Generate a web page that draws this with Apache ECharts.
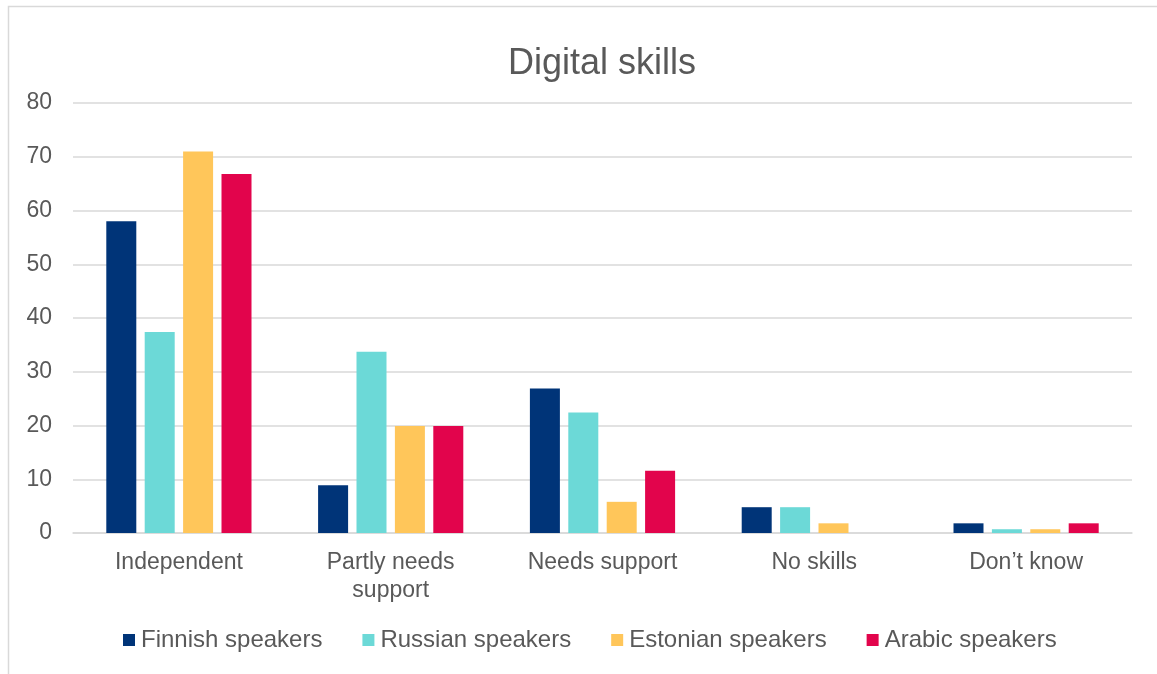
<!DOCTYPE html>
<html>
<head>
<meta charset="utf-8">
<script src="https://cdn.jsdelivr.net/npm/echarts@6/dist/echarts.min.js"></script>
<style>
  html, body { margin: 0; padding: 0; background: #fff; }
  #chart { width: 1157px; height: 674px; }
</style>
</head>
<body>
<div id="chart"></div>
<script>
const categories = ['Independent', 'Partly needs\nsupport', 'Needs support', 'No skills', 'Don\u2019t know'];
const finnish = [58, 8.9, 26.9, 4.8, 1.8];
const russian = [37.4, 33.7, 22.4, 4.8, 0.7];
const estonian = [71, 19.9, 5.8, 1.8, 0.7];
const arabic = [66.8, 19.9, 11.6, 0, 1.8];
const seriesNames = ['Finnish speakers', 'Russian speakers', 'Estonian speakers', 'Arabic speakers'];
const colors = ['#003478', '#6cd9d7', '#ffc65a', '#e2044c'];

const chart = echarts.init(document.getElementById('chart'));
const font = '"Liberation Sans", Arial, sans-serif';
const textColor = '#595959';

const bar = (name, data, color) => ({
  name: name,
  type: 'bar',
  data: data,
  barWidth: 30,
  barGap: '28%',
  itemStyle: { color: color },
  emphasis: { disabled: true }
});

chart.setOption({
  animation: false,
  color: colors,
  title: {
    text: 'Digital skills',
    left: 508,
    top: 46,
    padding: 0,
    textStyle: { fontFamily: font, fontSize: 36, fontWeight: 'normal', color: textColor }
  },
  graphic: [{
    type: 'rect',
    silent: true,
    shape: { x: 8.5, y: 6.5, width: 1200, height: 700 },
    style: { fill: 'none', stroke: '#d9d9d9', lineWidth: 1.5 }
  }],
  legend: {
    left: 123,
    top: 628,
    padding: 0,
    itemWidth: 12,
    itemHeight: 12,
    itemGap: 40,
    icon: 'rect',
    data: seriesNames,
    textStyle: { fontFamily: font, fontSize: 24, color: textColor, padding: [0, 0, 0, 1] }
  },
  grid: { left: 73, right: 25, top: 103, bottom: 141 },
  xAxis: {
    type: 'category',
    data: categories,
    axisTick: { show: false },
    axisLine: { lineStyle: { color: '#d9d9d9', width: 1.5 } },
    axisLabel: {
      interval: 0,
      margin: 16,
      fontFamily: font,
      fontSize: 23,
      lineHeight: 28,
      color: textColor
    }
  },
  yAxis: {
    type: 'value',
    min: 0,
    max: 80,
    interval: 10,
    axisLine: { show: false },
    axisTick: { show: false },
    splitLine: { lineStyle: { color: '#d9d9d9', width: 1.5 } },
    axisLabel: { margin: 21, fontFamily: font, fontSize: 23, color: textColor }
  },
  series: [
    bar(seriesNames[0], finnish, colors[0]),
    bar(seriesNames[1], russian, colors[1]),
    bar(seriesNames[2], estonian, colors[2]),
    bar(seriesNames[3], arabic, colors[3])
  ]
});
</script>
</body>
</html>
